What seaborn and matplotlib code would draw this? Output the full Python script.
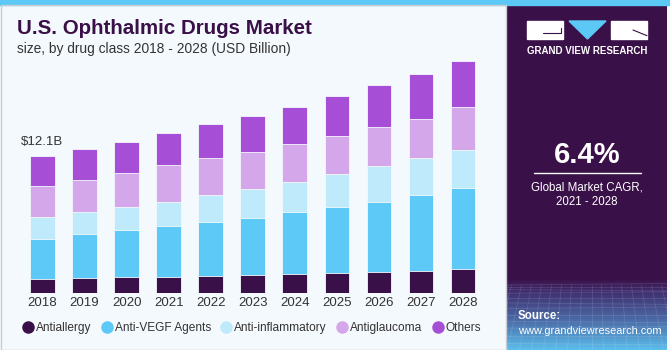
import numpy as np
import pandas as pd
import matplotlib
matplotlib.use('Agg')
import matplotlib.pyplot as plt
import seaborn as sns
from matplotlib.lines import Line2D
from matplotlib.patches import Rectangle, Polygon

years = [str(y) for y in range(2018, 2029)]
antiallergy = [1.26, 1.32, 1.44, 1.47, 1.52, 1.61, 1.70, 1.79, 1.88, 1.99, 2.11]
anti_vegf = [3.55, 3.90, 4.11, 4.49, 4.76, 5.02, 5.44, 5.84, 6.19, 6.70, 7.14]
anti_inflammatory = [1.94, 1.91, 2.03, 2.11, 2.38, 2.58, 2.67, 2.91, 3.12, 3.21, 3.40]
antiglaucoma = [2.73, 2.85, 3.00, 3.23, 3.23, 3.23, 3.32, 3.35, 3.44, 3.49, 3.74]
others = [2.62, 2.70, 2.76, 2.85, 3.00, 3.17, 3.26, 3.50, 3.70, 3.91, 4.11]
series_names = ["Antiallergy", "Anti-VEGF Agents", "Anti-inflammatory", "Antiglaucoma", "Others"]
series_colors = ["#3A1048", "#5CC9F6", "#BEEAFB", "#D4A7EB", "#A64FD6"]
first_label = "$12.1B"

sns.set_theme(style="white")
plt.rcParams['font.family'] = ['Liberation Sans', 'DejaVu Sans']

W, H = 670, 350
fig = plt.figure(figsize=(6.7, 3.5), dpi=100, facecolor='#F4F9FD')

# background / decoration layer in pixel coordinates
bg = fig.add_axes([0, 0, 1, 1], zorder=0)
bg.set_facecolor('#F4F9FD')
bg.add_patch(Rectangle((0, 0), W, 5, color='#5BC8F5', zorder=2))
bg.add_patch(Rectangle((0.5, 5), 505, 344.5, fill=False, edgecolor='#C9CDD2', lw=1, zorder=2))

ys = np.arange(5, 350)
stops_y = [5, 278, 292, 320, 350]
stops_c = np.array([[0x3A, 0x10, 0x48], [0x3A, 0x10, 0x48], [0x40, 0x30, 0x70],
                    [0x4B, 0x6C, 0xA8], [0x5C, 0xC0, 0xEE]]) / 255.0
grad = np.stack([np.interp(ys, stops_y, stops_c[:, i]) for i in range(3)], axis=-1)[:, None, :]
bg.imshow(grad, extent=(506, 667, 350, 5), aspect='auto', zorder=1, origin='upper')
# faint grid texture
for k in range(12):
    yy = 285 + (k ** 1.5) * 1.6
    bg.plot([506, 667], [yy, yy + (k % 3 - 1) * 1.5], color='white', alpha=0.12, lw=0.6, zorder=2)
for k in range(18):
    x0 = 506 + k * 9.5
    bg.plot([x0 + (k - 9) * 0.5, x0 + (k - 9) * 2.5], [285, 350], color='white', alpha=0.12, lw=0.6, zorder=2)

# logo
bg.add_patch(Rectangle((527, 21), 36, 18, color='white', zorder=3))
bg.plot([543, 561, 561], [32.5, 32.5, 28], color='#3A1048', lw=0.8, zorder=4)
bg.add_patch(Polygon([(569, 21), (606, 21), (587.5, 39)], closed=True, color='#5BC8F5', zorder=3))
bg.add_patch(Rectangle((611, 21), 36, 18, color='white', zorder=3))
bg.plot([633, 647], [30, 35.7], color='#3A1048', lw=0.8, zorder=4)
bg.text(587, 51, "GRAND VIEW RESEARCH", color='white', fontsize=7.0, fontweight='bold',
        ha='center', va='center', zorder=4)

bg.text(587, 155, "6.4%", color='white', fontsize=21, fontweight='bold', ha='center', va='center', zorder=4)
bg.plot([534, 641], [173, 173], color='white', lw=1, zorder=4)
bg.text(587, 187, "Global Market CAGR,", color='white', fontsize=8.3, ha='center', va='center', zorder=4)
bg.text(587, 202, "2021 - 2028", color='white', fontsize=8.3, ha='center', va='center', zorder=4)
bg.text(518, 316, "Source:", color='white', fontsize=8.3, fontweight='bold', ha='left', va='center', zorder=4)
bg.text(518, 331, "www.grandviewresearch.com", color='white', fontsize=7.9, ha='left', va='center', zorder=4)

bg.text(17, 28, "U.S. Ophthalmic Drugs Market", color='#3A1048', fontsize=14.8, fontweight='bold',
        ha='left', va='center', zorder=4)
bg.text(17, 49, "size, by drug class 2018 - 2028 (USD Billion)", color='#333333', fontsize=9.9,
        ha='left', va='center', zorder=4)
bg.set_xlim(0, W)
bg.set_ylim(H, 0)
bg.axis('off')

# chart
px_per_unit = 11.35
ax = fig.add_axes([21.5 / W, (H - 293.3) / H, 462.6 / W, 21 * px_per_unit / H], zorder=5)
ax.patch.set_alpha(0)

df = pd.DataFrame({"year": years, "Antiallergy": antiallergy, "Anti-VEGF Agents": anti_vegf,
                   "Anti-inflammatory": anti_inflammatory, "Antiglaucoma": antiglaucoma,
                   "Others": others})
cum = df[series_names].cumsum(axis=1)
for name, col in reversed(list(zip(series_names, series_colors))):
    sns.barplot(x=df["year"], y=cum[name], color=col, saturation=1, width=0.59,
                edgecolor='#F4F9FD', linewidth=0.6, ax=ax, order=years)

ax.set_ylim(0, 21)
ax.set_xlim(-0.5, len(years) - 0.5)
ax.annotate(first_label, xy=(0, cum["Others"].iloc[0]), xytext=(0, 10), textcoords='offset points',
            ha='center', va='center', fontsize=9.5, color='#333333')
ax.set_xlabel("")
ax.set_ylabel("")
ax.set_yticks([])
ax.tick_params(axis='x', length=0, labelsize=9.5, colors='#333333', pad=3)
for s in ax.spines.values():
    s.set_visible(False)

handles = [Line2D([0], [0], marker='o', linestyle='', markersize=8, markerfacecolor=c,
                  markeredgecolor=c) for c in series_colors]
fig.legend(handles, series_names, loc='center left', bbox_to_anchor=(11 / W, 1 - 328 / H), ncol=5,
           frameon=False, fontsize=8.6, handletextpad=0.2, columnspacing=0.75, handlelength=1.0,
           labelcolor='#333333')

fig.savefig("out.png", dpi=100, facecolor=fig.get_facecolor())
